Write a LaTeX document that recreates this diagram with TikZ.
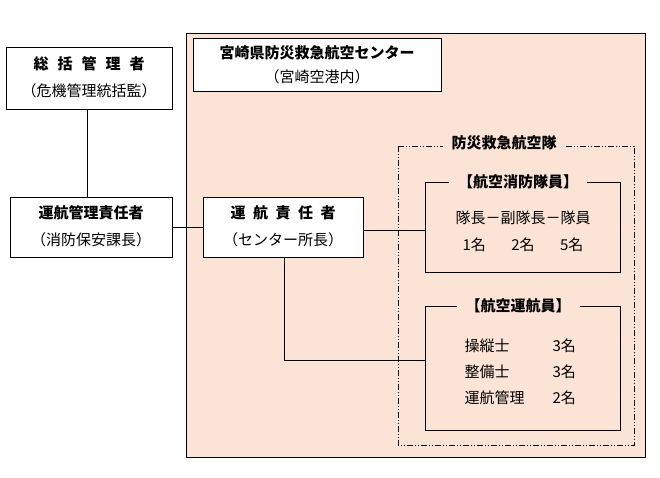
\documentclass[tikz,border=0pt]{standalone}
\usepackage{fontspec}
\setmainfont{Noto Sans CJK JP}
\begin{document}
\begin{tikzpicture}[x=1pt,y=-1pt,
  bx/.style={draw,fill=white,line width=0.8pt},
  ln/.style={line width=0.8pt},
  t/.style={font=\fontsize{15}{17}\selectfont},
  tb/.style={font=\fontsize{15}{17}\selectfont\bfseries},
  lab/.style={tb,fill=peach,inner xsep=9pt,inner ysep=1pt}]
\useasboundingbox (0,0) rectangle (660,477);
\definecolor{peach}{HTML}{FBE3D6}
\draw[fill=peach,line width=0.6pt] (186,33) rectangle (645,457);
\node[bx,minimum width=248,minimum height=53,anchor=north west] (miy) at (193,38) {};
\node[tb] at (317,53) {宮崎県防災救急航空センター};
\node[t] at (317,77) {（宮崎空港内）};
\node[bx,minimum width=166,minimum height=62,anchor=north west] (sou) at (6,47) {};
\node[tb] at (89,64) {総\hspace{0.6em}括\hspace{0.6em}管\hspace{0.6em}理\hspace{0.6em}者};
\node[t] at (89,91) {（危機管理統括監）};
\node[bx,minimum width=162,minimum height=60,anchor=north west] (unk) at (10,197) {};
\node[tb] at (91,213) {運航管理責任者};
\node[t] at (91,240) {（消防保安課長）};
\node[bx,minimum width=160,minimum height=60,anchor=north west] (uns) at (203,197) {};
\node[tb] at (283,213) {運\hspace{0.5em}航\hspace{0.5em}責\hspace{0.5em}任\hspace{0.5em}者};
\node[t] at (283,240) {（センター所長）};
% dash-dot team frame
\draw[line width=0.7pt,dash pattern=on 6pt off 2pt on 1pt off 2pt on 1pt off 2pt]
  (398,146) rectangle (634,445);
\node[lab] (team) at (504,143) {防災救急航空隊};
% firefighters bracket
\draw[ln] (425,182) rectangle (620,272);
\node[lab] (ff) at (518,182) {【航空消防隊員】};
\node[t] at (523,218) {隊長－副隊長－隊員};
\node[t] at (523,245) {1名\hspace{1.7em}2名\hspace{1.7em}5名};
% crew bracket
\draw[ln] (425,306) rectangle (620,430);
\node[lab] (cr) at (518,306) {【航空運航員】};
\node[t,anchor=west] at (461,346) {操縦士};
\node[t,anchor=west] at (461,372) {整備士};
\node[t,anchor=west] at (461,398) {運航管理};
\node[t,anchor=west] at (549,346) {3名};
\node[t,anchor=west] at (549,372) {3名};
\node[t,anchor=west] at (549,398) {2名};
% connectors
\coordinate (c1) at (425,230);
\coordinate (c2) at (425,360);
\draw[ln] (sou.south -| 87,0) -- (unk.north -| 87,0);
\draw[ln] (unk.east) -- (uns.west);
\draw[ln] (uns.east|-c1) -- (c1);
\draw[ln] (uns.south -| 284,0) |- (c2);
\end{tikzpicture}
\end{document}
